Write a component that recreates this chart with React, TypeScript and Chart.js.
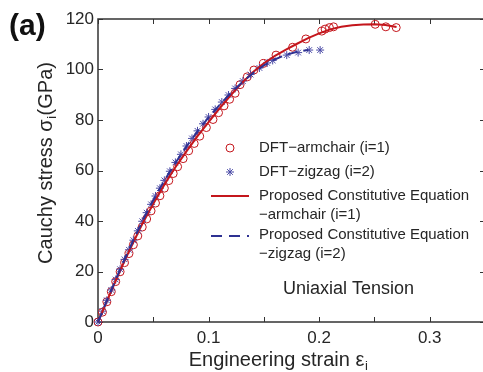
import React, { useEffect, useRef } from "react";
import { Chart, registerables } from "chart.js";

Chart.register(...registerables);

// DFT armchair (i=1)
const armStrain = [0, 0.004, 0.008, 0.012, 0.016, 0.02, 0.024, 0.028, 0.032, 0.036, 0.04, 0.044, 0.048, 0.052, 0.056, 0.06, 0.064, 0.068, 0.072, 0.077, 0.082, 0.087, 0.092, 0.098, 0.104, 0.109, 0.114, 0.119, 0.124, 0.1285, 0.135, 0.141, 0.1496, 0.161, 0.176, 0.188, 0.2024, 0.2054, 0.2093, 0.213, 0.2507, 0.2603, 0.2697];
const armStress = [0, 3.9, 8.0, 12.0, 16.0, 19.9, 23.5, 27.1, 30.6, 34.1, 37.6, 40.8, 44.0, 47.1, 50.0, 53.0, 56.0, 58.8, 61.5, 64.7, 67.8, 70.7, 73.6, 77.0, 80.2, 82.9, 85.6, 88.2, 90.6, 94.0, 97.1, 99.8, 102.4, 105.7, 108.8, 112.1, 115.2, 116.0, 116.6, 116.9, 117.9, 116.9, 116.6];

// DFT zigzag (i=2)
const zigStrain = [0, 0.004, 0.008, 0.012, 0.016, 0.02, 0.024, 0.028, 0.032, 0.036, 0.04, 0.044, 0.048, 0.052, 0.056, 0.06, 0.065, 0.07, 0.075, 0.08, 0.085, 0.09, 0.095, 0.1, 0.106, 0.112, 0.118, 0.124, 0.131, 0.138, 0.146, 0.153, 0.158, 0.1707, 0.181, 0.191, 0.2009];
const zigStress = [0, 4.3, 8.6, 12.7, 16.8, 20.9, 24.8, 28.6, 32.4, 36.1, 39.9, 43.3, 46.6, 49.9, 53.0, 56.1, 59.7, 63.2, 66.4, 69.7, 72.7, 75.7, 78.5, 81.2, 84.2, 87.1, 89.9, 92.5, 95.4, 98.0, 100.6, 102.6, 103.6, 105.7, 106.7, 107.7, 107.7];

// Proposed constitutive equation, armchair
const fitArmStrain = [0, 0.01, 0.02, 0.03, 0.04, 0.05, 0.06, 0.07, 0.08, 0.09, 0.1, 0.11, 0.12, 0.13, 0.14, 0.15, 0.16, 0.17, 0.18, 0.19, 0.2, 0.21, 0.22, 0.23, 0.24, 0.25, 0.26, 0.27];
const fitArmStress = [0, 10.3, 20.4, 29.8, 38.8, 46.8, 54.4, 61.3, 67.6, 73.6, 79.2, 84.6, 89.8, 94.6, 98.9, 102.5, 105.4, 107.9, 110.2, 112.4, 114.3, 115.9, 116.9, 117.5, 117.8, 117.9, 117.6, 116.8];

// Proposed constitutive equation, zigzag
const fitZigStrain = [0, 0.01, 0.02, 0.03, 0.04, 0.05, 0.06, 0.07, 0.08, 0.09, 0.1, 0.11, 0.12, 0.13, 0.14, 0.15, 0.16, 0.17, 0.18, 0.19];
const fitZigStress = [0, 10.5, 20.8, 30.5, 39.8, 48.2, 56.0, 63.0, 69.5, 75.5, 81.0, 86.0, 90.6, 94.8, 98.5, 101.6, 104.0, 105.8, 107.0, 107.7];

const xMin = 0, xMax = 0.35, xStep = 0.05, xLabelStep = 0.1;
const yMin = 0, yMax = 120, yStep = 20;

const legendLabels = ["DFT\u2212armchair (i=1)", "DFT\u2212zigzag (i=2)", "Proposed Constitutive Equation", "\u2212armchair (i=1)", "Proposed Constitutive Equation", "\u2212zigzag (i=2)"];

const RED = "#c4161c";
const BLUE = "#2e3192";
const STAR = "#4a4aa6";
const TEXT = "#262626";
const FONT = "'Liberation Sans', Arial, Helvetica, sans-serif";

const zip = (xs: number[], ys: number[]) => xs.map((x, i) => ({ x, y: ys[i] }));

const decorPlugin = {
  id: "decor",
  beforeDatasetsDraw(chart: any) {
    const { ctx, chartArea: a, scales } = chart;
    ctx.save();
    ctx.strokeStyle = "#333";
    ctx.lineWidth = 1.5;
    ctx.strokeRect(a.left, a.top, a.right - a.left, a.bottom - a.top);
    ctx.lineWidth = 1;
    const tl = 5;
    for (let v = xMin; v <= xMax + 1e-9; v += xStep) {
      const px = Math.round(scales.x.getPixelForValue(v)) + 0.5;
      ctx.beginPath();
      ctx.moveTo(px, a.bottom);
      ctx.lineTo(px, a.bottom - tl);
      ctx.moveTo(px, a.top);
      ctx.lineTo(px, a.top + tl);
      ctx.stroke();
    }
    for (let v = yMin; v <= yMax + 1e-9; v += yStep) {
      const py = Math.round(scales.y.getPixelForValue(v)) + 0.5;
      ctx.beginPath();
      ctx.moveTo(a.left, py);
      ctx.lineTo(a.left + tl, py);
      ctx.moveTo(a.right, py);
      ctx.lineTo(a.right - tl, py);
      ctx.stroke();
    }
    ctx.restore();
  },
  afterDraw(chart: any) {
    const { ctx, chartArea: a } = chart;
    ctx.save();
    ctx.fillStyle = TEXT;
    // panel label
    ctx.font = `bold 30px ${FONT}`;
    ctx.textBaseline = "alphabetic";
    ctx.textAlign = "left";
    ctx.fillStyle = "#111";
    ctx.fillText("(a)", 9, 35);
    ctx.fillStyle = TEXT;

    // x title
    const xt = "Engineering strain \u03b5";
    ctx.font = `20px ${FONT}`;
    const wMain = ctx.measureText(xt).width;
    ctx.font = `13px ${FONT}`;
    const wSub = ctx.measureText("i").width;
    const cx = (a.left + 470) / 2 - 6;
    let sx = cx - (wMain + wSub) / 2;
    ctx.font = `20px ${FONT}`;
    ctx.fillText(xt, sx, 366);
    ctx.font = `13px ${FONT}`;
    ctx.fillText("i", sx + wMain + 0.5, 370);

    // y title
    ctx.save();
    ctx.translate(52, 163);
    ctx.rotate(-Math.PI / 2);
    const p1 = "Cauchy stress \u03c3";
    const p3 = "(GPa)";
    ctx.font = `20px ${FONT}`;
    const w1 = ctx.measureText(p1).width;
    const w3 = ctx.measureText(p3).width;
    ctx.font = `13px ${FONT}`;
    const w2 = ctx.measureText("i").width + 1;
    let tx = -(w1 + w2 + w3) / 2;
    ctx.font = `20px ${FONT}`;
    ctx.fillText(p1, tx, 0);
    ctx.font = `13px ${FONT}`;
    ctx.fillText("i", tx + w1 + 0.5, 4);
    ctx.font = `20px ${FONT}`;
    ctx.fillText(p3, tx + w1 + w2, 0);
    ctx.restore();

    // legend
    ctx.font = `15px ${FONT}`;
    ctx.textBaseline = "middle";
    ctx.textAlign = "left";
    const tx0 = 259;
    ctx.fillText(legendLabels[0], tx0, 148);
    ctx.fillText(legendLabels[1], tx0, 172);
    ctx.fillText(legendLabels[2], tx0, 196);
    ctx.fillText(legendLabels[3], tx0, 215);
    ctx.fillText(legendLabels[4], tx0, 235);
    ctx.fillText(legendLabels[5], tx0, 254);

    ctx.strokeStyle = RED;
    ctx.lineWidth = 1;
    ctx.beginPath();
    ctx.arc(230, 148, 4, 0, Math.PI * 2);
    ctx.stroke();

    ctx.strokeStyle = STAR;
    ctx.beginPath();
    const r = 4;
    for (let k = 0; k < 4; k++) {
      const ang = (k * Math.PI) / 4;
      ctx.moveTo(230 - r * Math.cos(ang), 172 - r * Math.sin(ang));
      ctx.lineTo(230 + r * Math.cos(ang), 172 + r * Math.sin(ang));
    }
    ctx.stroke();

    ctx.strokeStyle = RED;
    ctx.lineWidth = 2;
    ctx.beginPath();
    ctx.moveTo(211, 196);
    ctx.lineTo(249, 196);
    ctx.stroke();

    ctx.strokeStyle = BLUE;
    ctx.setLineDash([11, 7]);
    ctx.beginPath();
    ctx.moveTo(211, 236);
    ctx.lineTo(249, 236);
    ctx.stroke();
    ctx.setLineDash([]);

    // annotation
    ctx.fillStyle = TEXT;
    ctx.font = `18px ${FONT}`;
    ctx.textAlign = "left";
    ctx.fillText("Uniaxial Tension", 283, 289);
    ctx.restore();
  },
};

export default function App() {
  const ref = useRef<HTMLCanvasElement | null>(null);
  useEffect(() => {
    if (!ref.current) return;
    const chart = new Chart(ref.current, {
      type: "scatter",
      data: {
        datasets: [
          {
            label: "fit-zig",
            data: zip(fitZigStrain, fitZigStress),
            showLine: true,
            borderColor: BLUE,
            borderWidth: 2,
            borderDash: [10, 6],
            pointRadius: 0,
            order: 0,
            clip: false,
          } as any,
          {
            label: "fit-arm",
            data: zip(fitArmStrain, fitArmStress),
            showLine: true,
            borderColor: RED,
            borderWidth: 2,
            pointRadius: 0,
            order: 1,
            clip: false,
          },
          {
            label: "DFT-zigzag",
            data: zip(zigStrain, zigStress),
            pointStyle: "star",
            pointRadius: 4,
            borderColor: STAR,
            backgroundColor: STAR,
            borderWidth: 1,
            order: 2,
            clip: false,
          },
          {
            label: "DFT-armchair",
            data: zip(armStrain, armStress),
            pointStyle: "circle",
            pointRadius: 4,
            borderColor: RED,
            backgroundColor: "rgba(0,0,0,0)",
            borderWidth: 1,
            order: 3,
            clip: false,
          },
        ],
      },
      options: {
        animation: false,
        responsive: false,
        maintainAspectRatio: false,
        layout: { padding: { left: 0, right: 7, top: 19, bottom: 0 } },
        plugins: { legend: { display: false }, tooltip: { enabled: false } },
        scales: {
          x: {
            type: "linear",
            min: xMin,
            max: xMax,
            grid: { display: false, drawTicks: false },
            border: { display: false },
            afterFit: (s: any) => {
              s.height = 50;
            },
            ticks: {
              stepSize: xStep,
              padding: 6,
              color: TEXT,
              font: { family: FONT, size: 17 },
              maxRotation: 0,
              autoSkip: false,
              callback: (v: any) => {
                const n = Number(v);
                const k = n / xLabelStep;
                if (Math.abs(k - Math.round(k)) > 1e-6 || n > 0.3 + 1e-9) return "";
                return n === 0 ? "0" : n.toFixed(1);
              },
            },
          },
          y: {
            type: "linear",
            min: yMin,
            max: yMax,
            grid: { display: false, drawTicks: false },
            border: { display: false },
            afterFit: (s: any) => {
              s.width = 98;
            },
            ticks: {
              stepSize: yStep,
              padding: 4,
              color: TEXT,
              font: { family: FONT, size: 17 },
            },
          },
        },
      },
      plugins: [decorPlugin],
    });
    return () => chart.destroy();
  }, []);
  return (
    <div style={{ position: "fixed", left: 0, top: 0, width: 483, height: 372, overflow: "hidden", background: "#fff" }}>
      <canvas ref={ref} width={492} height={372} style={{ display: "block", width: 492, height: 372 }} />
    </div>
  );
}
